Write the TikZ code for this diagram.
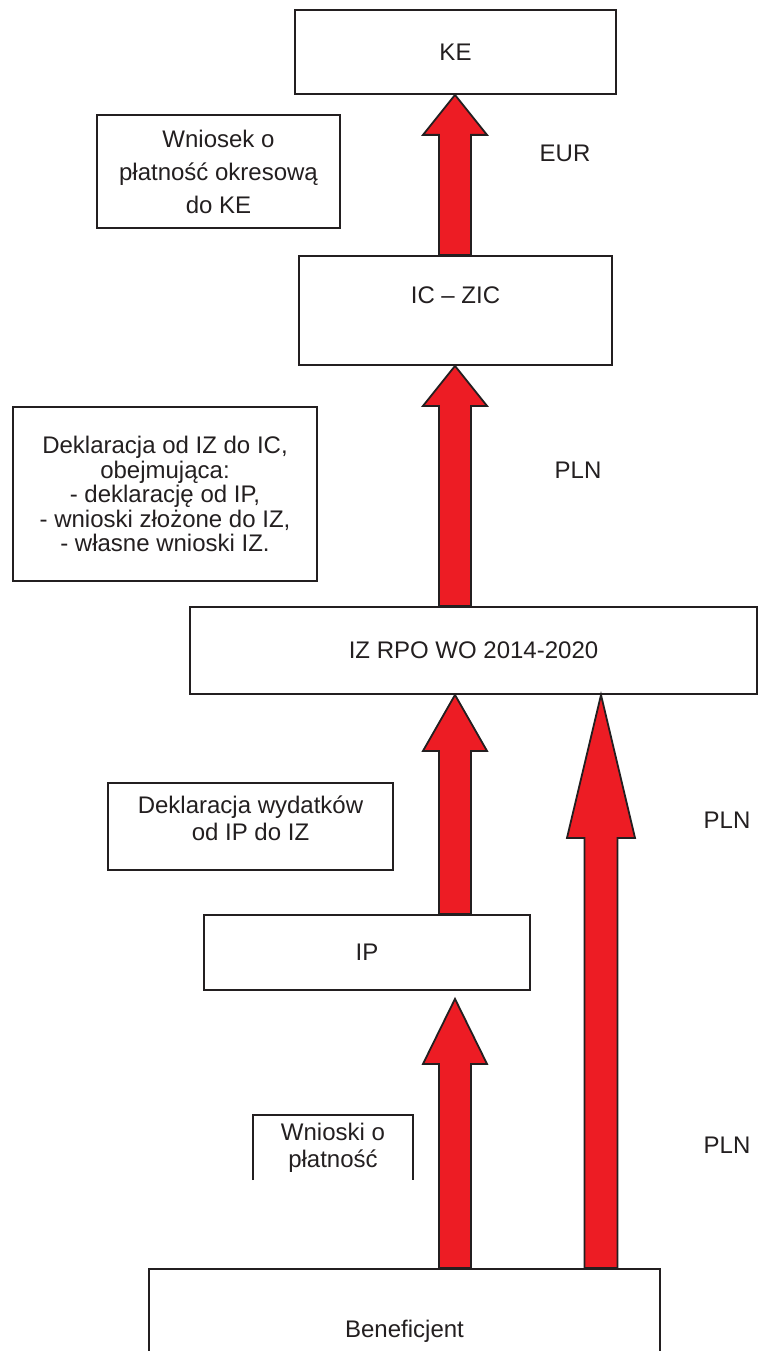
\documentclass[tikz,border=0pt]{standalone}
\usepackage{fontspec}
\setmainfont{Liberation Sans}
\usetikzlibrary{positioning,calc}
\definecolor{flowred}{RGB}{237,28,36}
\definecolor{inkgray}{RGB}{35,31,32}
\tikzset{
  box/.style={draw=inkgray, line width=1.8pt, fill=white, inner sep=0pt, align=center,
              font=\fontsize{24}{27}\selectfont, text=inkgray},
  note/.style={box},
  cur/.style={font=\fontsize{24}{27}\selectfont, text=inkgray, inner sep=0pt},
  edge/.style={draw=inkgray, line width=1.8pt},
  fat/.style={draw=inkgray, line width=1.8pt, fill=flowred, line join=miter}
}
% #1 shaft half width, #2 tail point, #3 tip point, #4 column, #5 head length, #6 head half width
\newcommand{\fatarrow}[6][16]{%
  \draw[fat] ($(#2 -| #4)+(-#1,0)$) -- ($(#3 -| #4)+(-#1,#5)$)
    -- ($(#3 -| #4)+(-#6,#5)$) -- (#3 -| #4) -- ($(#3 -| #4)+(#6,#5)$)
    -- ($(#3 -| #4)+(#1,#5)$) -- ($(#2 -| #4)+(#1,0)$) -- cycle;}

\begin{document}
\begin{tikzpicture}[x=1pt,y=-1pt]
\useasboundingbox (0,0) rectangle (761,1351);
\clip (0,0) rectangle (761,1351);
% levels
\node[box, minimum width=321pt, minimum height=84pt] (ke) at (455.5,52) {KE};
\node[box, minimum width=313pt, minimum height=109pt, text height=17pt, text depth=32pt] (ic) at (455.5,310.5) {IC -- ZIC};
\node[box, minimum width=567pt, minimum height=87pt] (iz) at (473.5,650.5) {IZ RPO WO 2014-2020};
\node[box, minimum width=326pt, minimum height=75pt] (ip) at (367,952.5) {IP};
\node[box, minimum width=511pt, minimum height=124pt] (ben) at (404.5,1331) {Beneficjent};
% notes
\node[note, minimum width=243pt, minimum height=113pt, font=\fontsize{24}{33}\selectfont] (wn) at (218.5,171.5)
  {Wniosek o\\płatność okresową\\do KE};
\node[note, minimum width=304pt, minimum height=174pt, font=\fontsize{24}{24.5}\selectfont] (dk) at (165,494)
  {Deklaracja od IZ do IC,\\obejmująca:\\- deklarację od IP,\\- wnioski złożone do IZ,\\- własne wnioski IZ.};
\node[note, minimum width=285pt, minimum height=87pt, text depth=16pt] (dw) at (250.5,826.5)
  {Deklaracja wydatków\\od IP do IZ};
\node[cur, minimum width=160pt, minimum height=65pt, align=center] (wp) at (333,1147.5) {Wnioski o\\płatność};
\draw[edge] (wp.south west) |- (wp.north east) -- (wp.south east);
% flows
\coordinate (colA) at (455,0);
\coordinate (colB) at (601,0);
\coordinate (ipfoot) at ($(ip.south)+(0,8)$);
\fatarrow{ic.north}{ke.south}{colA}{40}{32}
\fatarrow{iz.north}{ic.south}{colA}{40}{32}
\fatarrow{ip.north}{iz.south}{colA}{56}{32}
\fatarrow{ben.north}{ipfoot}{colA}{65}{32}
\fatarrow[16.5]{ben.north}{iz.south}{colB}{143}{34}
% currencies
\node[cur] (eur) at (565,153) {EUR};
\node[cur] (pln1) at (578,470) {PLN};
\node[cur] (pln2) at (727,820) {PLN};
\node[cur] (pln3) at (727,1145) {PLN};
\end{tikzpicture}
\end{document}
